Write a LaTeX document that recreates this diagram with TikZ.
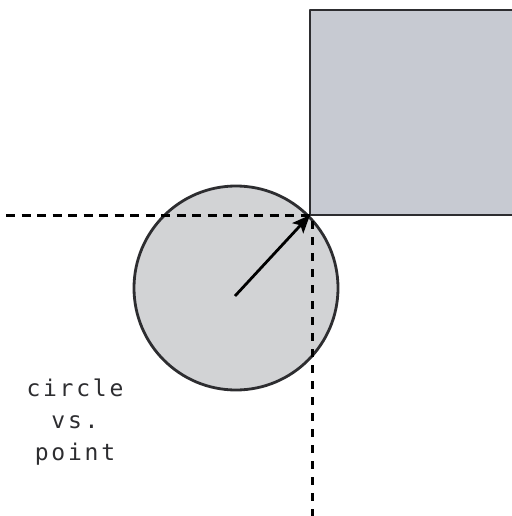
\documentclass[tikz,border=0pt]{standalone}
\usepackage{fontspec}
\setmonofont{DejaVu Sans Mono}[LetterSpace=12]
\usetikzlibrary{arrows.meta}
\definecolor{boxfill}{RGB}{199,202,210}
\definecolor{ballfill}{RGB}{210,211,213}
\definecolor{edge}{RGB}{45,45,48}
\begin{document}
\begin{tikzpicture}[x=1pt, y=-1pt, line join=round, >={Stealth[length=18pt,width=15pt,inset=4pt]}]
			\def\cx{236} \def\cy{288} \def\rad{102}
			\def\px{310} \def\py{215}
			\useasboundingbox (0,0) rectangle (511,516);
			\coordinate (P) at (\px,\py);
			\coordinate (O) at (235,296);
			% the box, running off the right edge
			\fill[boxfill] (\px,10) rectangle (516,\py);
			\draw[edge, line width=2.8pt] (516,10) -- (\px,10) -- (P) -- (516,\py);
			% the ball
			\draw[edge, fill=ballfill, line width=2.8pt] (\cx,\cy) circle (\rad);
			% guides through the corner
			\draw[line width=3pt, dash pattern=on 9pt off 6.5pt, dash phase=-6pt] (0,\py) -- (P);
			\draw[line width=3pt, dash pattern=on 8pt off 8pt] (\px+2,\py+6) -- (\px+2,516);
			\draw[->, line width=2.8pt] (O) -- (P);
			\node[font=\ttfamily\fontsize{23}{32}\selectfont, text=edge, align=center] (label) at (75,422) {circle\\vs.\\point};
		\end{tikzpicture}
\end{document}
